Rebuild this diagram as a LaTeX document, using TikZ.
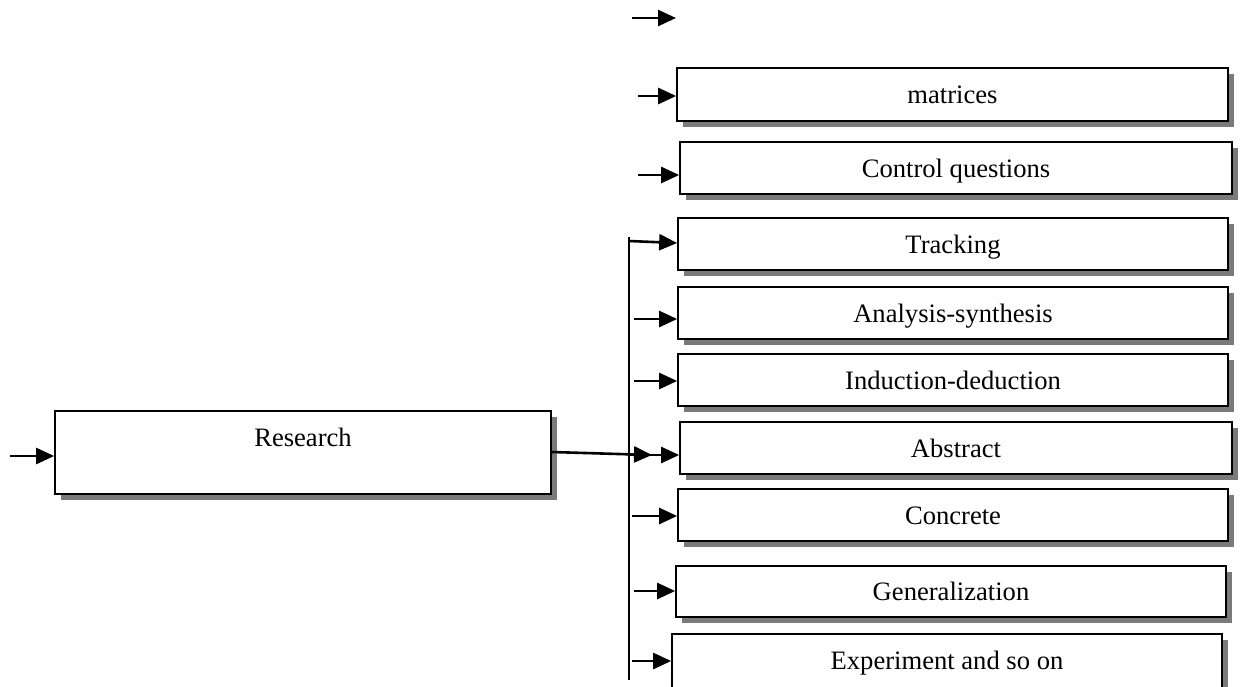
\documentclass[tikz,border=0pt]{standalone}
\usepackage{fontspec}
\setmainfont{Liberation Serif}
\usetikzlibrary{arrows.meta}
\begin{document}
\begin{tikzpicture}[x=0.5pt,y=-0.5pt,
  boxnode/.style={draw=black,fill=white,line width=0.85pt,inner sep=0pt,
    font=\fontsize{13.3}{16}\selectfont,text height=9pt,text depth=0pt,
    preaction={fill=black!52,transform canvas={xshift=3pt,yshift=-3pt}}},
  conn/.style={line width=1.3pt,-{Triangle[length=9pt,width=8pt]}},
  trunk/.style={line width=1pt}]
\useasboundingbox (0,0) rectangle (1240,686);
\clip (0,0) rectangle (1240,686);
% boxes
\node[boxnode,minimum width=248pt,minimum height=41.5pt,text depth=15pt] (res) at (303,452.5) {Research};
\node[boxnode,minimum width=275.5pt,minimum height=26.5pt] (mat) at (952.5,94.5) {matrices};
\node[boxnode,minimum width=276pt,minimum height=26pt] (ctl) at (956,168) {Control questions};
\node[boxnode,minimum width=275pt,minimum height=26pt] (trk) at (953,244) {Tracking};
\node[boxnode,minimum width=275pt,minimum height=26pt] (ana) at (953,313) {Analysis-synthesis};
\node[boxnode,minimum width=275pt,minimum height=26pt] (ind) at (953,380) {Induction-deduction};
\node[boxnode,minimum width=276pt,minimum height=26pt] (abs) at (956,448) {Abstract};
\node[boxnode,minimum width=275pt,minimum height=26pt] (con) at (953,515) {Concrete};
\node[boxnode,minimum width=275pt,minimum height=25.5pt] (gen) at (951,591.5) {Generalization};
\node[boxnode,minimum width=275pt,minimum height=28pt,text depth=2pt] (exp) at (947,662) {Experiment and so on};
% coordinates
\coordinate (t0) at (632,18);
\coordinate (t1) at (676,18);
\coordinate (rin) at (10,456);
\coordinate (ttop) at (629,237);
\coordinate (tbot) at (629,680);
\coordinate (hit) at (652,455);
% connectors
\draw[conn] (t0) -- (t1);
\draw[conn] (rin) -- (rin -| res.west);
\draw[conn] (638,96) -- (mat.west |- 0,96);
\draw[conn] (638,175) -- (ctl.west |- 0,175);
\draw[trunk] (ttop) -- (tbot);
\draw[conn] (629,241) -- (trk.west |- 0,243);
\draw[conn] (634,319) -- (ana.west |- 0,319);
\draw[conn] (634,381) -- (ind.west |- 0,381);
\draw[conn] (res.east |- 0,452) -- (hit);
\draw[conn] (629,455) -- (abs.west |- 0,455);
\draw[conn] (632,516) -- (con.west |- 0,516);
\draw[conn] (634,591) -- (gen.west |- 0,591);
\draw[conn] (632,661) -- (exp.west |- 0,661);
\end{tikzpicture}
\end{document}
